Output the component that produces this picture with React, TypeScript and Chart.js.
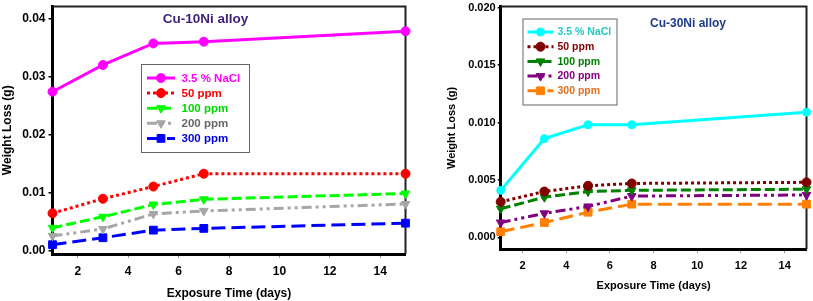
import React, { useEffect, useRef } from "react";
import { Chart, registerables } from "chart.js";
import { drawPoint } from "chart.js/helpers";

Chart.register(...registerables);

// ---------- DATA ----------
const days = [1, 3, 5, 7, 15];
const seriesLabels = ["3.5 % NaCl", "50 ppm", "100 ppm", "200 ppm", "300 ppm"];

const cu10NaCl = [0.0274, 0.032, 0.0357, 0.036, 0.0378];
const cu10Ppm50 = [0.0065, 0.009, 0.0111, 0.0133, 0.0133];
const cu10Ppm100 = [0.004, 0.0059, 0.008, 0.0089, 0.0099];
const cu10Ppm200 = [0.0026, 0.0038, 0.0064, 0.0069, 0.0081];
const cu10Ppm300 = [0.0011, 0.0023, 0.0036, 0.0039, 0.0048];

const cu30NaCl = [0.0041, 0.0086, 0.0098, 0.0098, 0.0109];
const cu30Ppm50 = [0.0031, 0.004, 0.0045, 0.0047, 0.0048];
const cu30Ppm100 = [0.0025, 0.0035, 0.004, 0.0041, 0.0042];
const cu30Ppm200 = [0.0013, 0.0021, 0.0027, 0.0036, 0.0037];
const cu30Ppm300 = [0.0005, 0.0013, 0.0022, 0.0029, 0.0029];

const xTickValues = [2, 4, 6, 8, 10, 12, 14];
const yTicksCu10 = [0, 0.01, 0.02, 0.03, 0.04];
const yTickLabelsCu10 = ["0.00", "0.01", "0.02", "0.03", "0.04"];
const yTicksCu30 = [0, 0.005, 0.01, 0.015, 0.02];
const yTickLabelsCu30 = ["0.000", "0.005", "0.010", "0.015", "0.020"];

const titleCu10 = "Cu-10Ni alloy";
const titleCu30 = "Cu-30Ni alloy";
const xTitle = "Exposure Time (days)";
const yTitle = "Weight Loss (g)";

// ---------- STYLES ----------
const FONT = "'Liberation Sans', Arial, sans-serif";

type SeriesStyle = {
  color: string;
  text: string;
  dash: number[];
  point: string;
  rot: number;
  radius: number;
};

const stylesCu10: SeriesStyle[] = [
  { color: "#ff00ff", text: "#ff00ff", dash: [], point: "circle", rot: 0, radius: 4.5 },
  { color: "#ff0000", text: "#ff0000", dash: [3, 3], point: "circle", rot: 0, radius: 4.5 },
  { color: "#00ff00", text: "#00d800", dash: [10, 4], point: "triangle", rot: 180, radius: 5 },
  { color: "#a6a6a6", text: "#666666", dash: [10, 4, 3, 4, 3, 4], point: "triangle", rot: 180, radius: 5 },
  { color: "#0000ff", text: "#0000dd", dash: [14, 6], point: "rect", rot: 0, radius: 5.5 },
];

const stylesCu30: SeriesStyle[] = [
  { color: "#00ffff", text: "#22c8c8", dash: [], point: "circle", rot: 0, radius: 4 },
  { color: "#800000", text: "#800000", dash: [3, 3], point: "circle", rot: 0, radius: 4.5 },
  { color: "#008000", text: "#008000", dash: [10, 4], point: "triangle", rot: 180, radius: 5 },
  { color: "#800080", text: "#800080", dash: [10, 4, 3, 4, 3, 4], point: "triangle", rot: 180, radius: 5 },
  { color: "#ff8000", text: "#e07020", dash: [14, 6], point: "rect", rot: 0, radius: 5.5 },
];

// ---------- PLUGINS ----------
const framePlugin = {
  id: "frameTR",
  beforeDatasetsDraw(chart: any) {
    const { ctx, chartArea: a } = chart;
    ctx.save();
    ctx.strokeStyle = "#222";
    ctx.lineWidth = 2;
    ctx.beginPath();
    ctx.moveTo(a.left, a.top);
    ctx.lineTo(a.right, a.top);
    ctx.lineTo(a.right, a.bottom);
    ctx.stroke();
    ctx.restore();
  },
};

const boxLegendPlugin = {
  id: "boxLegend",
  afterDraw(chart: any, _args: any, o: any) {
    if (!o || !o.box) return;
    const { ctx } = chart;
    ctx.save();
    // title
    ctx.font = `bold ${o.titleSize}px ${FONT}`;
    ctx.fillStyle = o.titleColor;
    ctx.textAlign = "center";
    ctx.textBaseline = "middle";
    ctx.fillText(o.title, o.titleX, o.titleY);
    // legend box
    const b = o.box;
    ctx.fillStyle = "#fff";
    ctx.fillRect(b.x, b.y, b.w, b.h);
    ctx.strokeStyle = "#666";
    ctx.lineWidth = 1;
    ctx.strokeRect(b.x + 0.5, b.y + 0.5, b.w, b.h);
    ctx.font = `bold ${o.fontSize}px ${FONT}`;
    ctx.textAlign = "left";
    chart.data.datasets.forEach((ds: any, i: number) => {
      const y = o.firstY + i * o.rowGap;
      ctx.save();
      ctx.strokeStyle = ds.borderColor;
      ctx.lineWidth = ds.borderWidth;
      ctx.setLineDash(ds.borderDash || []);
      ctx.beginPath();
      ctx.moveTo(o.lineX1, y);
      ctx.lineTo(o.lineX2, y);
      ctx.stroke();
      ctx.setLineDash([]);
      ctx.fillStyle = ds.pointBackgroundColor;
      ctx.strokeStyle = ds.pointBorderColor;
      ctx.lineWidth = 1;
      drawPoint(
        ctx,
        { pointStyle: ds.pointStyle, rotation: ds.pointRotation, radius: ds.pointRadius, borderWidth: 1 },
        (o.lineX1 + o.lineX2) / 2,
        y
      );
      ctx.restore();
      ctx.fillStyle = o.textColors[i];
      ctx.textBaseline = "middle";
      ctx.fillText(ds.label, o.textX, y + 0.5);
    });
    ctx.restore();
  },
};

// ---------- CONFIG ----------
type PanelDef = {
  series: number[][];
  styles: SeriesStyle[];
  yMin: number;
  yMax: number;
  yTicks: number[];
  yLabels: string[];
  yWidth: number;
  xHeight: number;
  padTop: number;
  padRight: number;
  tickSize: number;
  titleSize: number;
  yTickLen: number;
  yTickPad: number;
  xTickPad: number;
  xTitlePadBottom: number;
  yTitlePadTop: number;
  legend: any;
};

function buildConfig(p: PanelDef): any {
  const datasets = p.series.map((vals, i) => {
    const s = p.styles[i];
    return {
      label: seriesLabels[i],
      data: days.map((d, j) => ({ x: d, y: vals[j] })),
      borderColor: s.color,
      backgroundColor: s.color,
      borderWidth: 3,
      borderDash: s.dash,
      borderCapStyle: "butt",
      pointStyle: s.point,
      pointRotation: s.rot,
      pointRadius: s.radius,
      pointBackgroundColor: s.color,
      pointBorderColor: s.color,
      pointBorderWidth: 1,
      tension: 0,
      clip: false,
    };
  });
  const tickFont = { family: FONT, size: p.tickSize, weight: "bold" };
  const titleFont = { family: FONT, size: p.titleSize, weight: "bold" };
  return {
    type: "line",
    data: { datasets },
    plugins: [framePlugin, boxLegendPlugin],
    options: {
      responsive: false,
      animation: false,
      devicePixelRatio: 1,
      layout: { padding: { left: 0, top: p.padTop, right: p.padRight, bottom: 0 } },
      plugins: {
        legend: { display: false },
        tooltip: { enabled: false },
        boxLegend: p.legend,
      },
      scales: {
        x: {
          type: "linear",
          min: 1,
          max: 15,
          afterBuildTicks: (s: any) => {
            s.ticks = xTickValues.map((v) => ({ value: v }));
          },
          afterFit: (s: any) => {
            s.height = p.xHeight;
            s.paddingLeft = 0;
            s.paddingRight = 0;
          },
          grid: {
            display: true,
            drawOnChartArea: false,
            drawTicks: true,
            tickLength: 4,
            color: "#999",
            lineWidth: 1,
          },
          border: { display: true, color: "#000", width: 3 },
          ticks: {
            color: "#000",
            font: tickFont,
            padding: p.xTickPad,
            maxRotation: 0,
            autoSkip: false,
            callback: (v: number) => String(v),
          },
          title: {
            display: true,
            text: xTitle,
            color: "#000",
            font: titleFont,
            padding: { top: 0, bottom: p.xTitlePadBottom },
          },
        },
        y: {
          type: "linear",
          min: p.yMin,
          max: p.yMax,
          afterBuildTicks: (s: any) => {
            s.ticks = p.yTicks.map((v) => ({ value: v }));
          },
          afterFit: (s: any) => {
            s.width = p.yWidth;
            s.paddingTop = 0;
            s.paddingBottom = 0;
          },
          grid: {
            display: true,
            drawOnChartArea: false,
            drawTicks: true,
            tickLength: p.yTickLen,
            color: "#000",
            lineWidth: 1.5,
          },
          border: { display: true, color: "#000", width: 3 },
          ticks: {
            color: "#000",
            font: tickFont,
            padding: p.yTickPad,
            autoSkip: false,
            callback: (v: number) => {
              const k = p.yTicks.findIndex((t) => Math.abs(t - v) < 1e-9);
              return k >= 0 ? p.yLabels[k] : "";
            },
          },
          title: {
            display: true,
            text: yTitle,
            color: "#000",
            font: titleFont,
            padding: { top: p.yTitlePadTop, bottom: 0 },
          },
        },
      },
    },
  };
}

const panelCu10: PanelDef = {
  series: [cu10NaCl, cu10Ppm50, cu10Ppm100, cu10Ppm200, cu10Ppm300],
  styles: stylesCu10,
  yMin: -0.0005,
  yMax: 0.04205,
  yTicks: yTicksCu10,
  yLabels: yTickLabelsCu10,
  yWidth: 52.5,
  xHeight: 47,
  padTop: 5,
  padRight: 5.5,
  tickSize: 12,
  titleSize: 12,
  yTickLen: 4,
  yTickPad: 3,
  xTickPad: 6,
  xTitlePadBottom: 0,
  yTitlePadTop: 0,
  legend: {
    title: titleCu10,
    titleX: 205.5,
    titleY: 19.5,
    titleSize: 13.5,
    titleColor: "#3c1f7a",
    box: { x: 141, y: 64, w: 108, h: 88 },
    firstY: 78,
    rowGap: 15.1,
    lineX1: 147,
    lineX2: 175,
    textX: 181.5,
    fontSize: 11.5,
    textColors: stylesCu10.map((s) => s.text),
  },
};

const panelCu30: PanelDef = {
  series: [cu30NaCl, cu30Ppm50, cu30Ppm100, cu30Ppm200, cu30Ppm300],
  styles: stylesCu30,
  yMin: -0.00103,
  yMax: 0.0201,
  yTicks: yTicksCu30,
  yLabels: yTickLabelsCu30,
  yWidth: 88.7,
  xHeight: 51.7,
  padTop: 4,
  padRight: 4.5,
  tickSize: 11,
  titleSize: 11,
  yTickLen: 3,
  yTickPad: 2,
  xTickPad: 6,
  xTitlePadBottom: 8,
  yTitlePadTop: 33,
  legend: {
    title: titleCu30,
    titleX: 276,
    titleY: 24,
    titleSize: 12,
    titleColor: "#1f3a8c",
    box: { x: 110.5, y: 18.5, w: 94, h: 86 },
    firstY: 32,
    rowGap: 14.7,
    lineX1: 115.5,
    lineX2: 141.5,
    textX: 145.5,
    fontSize: 10.5,
    textColors: stylesCu30.map((s) => s.text),
  },
};

function Panel({ def, left, width }: { def: PanelDef; left: number; width: number }) {
  const ref = useRef<HTMLCanvasElement>(null);
  useEffect(() => {
    const chart = new Chart(ref.current as HTMLCanvasElement, buildConfig(def));
    return () => chart.destroy();
  }, [def]);
  return (
    <div style={{ position: "absolute", left, top: 0, width, height: 301 }}>
      <canvas ref={ref} width={width} height={301} style={{ width, height: 301, display: "block" }} />
    </div>
  );
}

export default function App() {
  return (
    <div style={{ position: "absolute", left: 0, top: 0, width: 813, height: 301, background: "#fff" }}>
      <Panel def={panelCu10} left={0} width={412} />
      <Panel def={panelCu30} left={412} width={401} />
    </div>
  );
}
